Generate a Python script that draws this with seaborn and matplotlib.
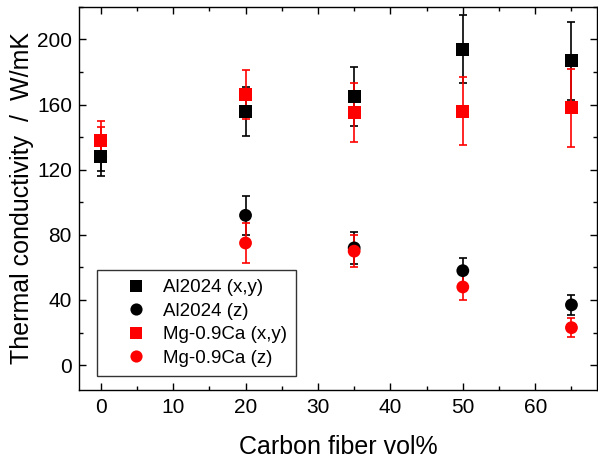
import numpy as np
import pandas as pd
import seaborn as sns
import matplotlib.pyplot as plt
from matplotlib.ticker import MultipleLocator
from matplotlib.lines import Line2D
from matplotlib.collections import PathCollection
from matplotlib.legend_handler import HandlerLine2D, HandlerPathCollection

fiber = [0, 20, 35, 50, 65]

al_xy = [128, 156, 165, 194, 187]
al_xy_err = [12, 15, 18, 21, 24]
al_z = [128, 92, 72, 58, 37]
al_z_err = [9, 12, 10, 8, 6]
mg_xy = [138, 166, 155, 156, 158]
mg_xy_err = [12, 15, 18, 21, 24]
mg_z = [138, 75, 70, 48, 23]
mg_z_err = [8, 12, 10, 8, 6]

names = ["Al2024 (x,y)", "Al2024 (z)", "Mg-0.9Ca (x,y)", "Mg-0.9Ca (z)"]
vals = [al_xy, al_z, mg_xy, mg_z]
errs = [al_xy_err, al_z_err, mg_xy_err, mg_z_err]
colors = ["black", "black", "red", "red"]
markers = ["s", "o", "s", "o"]

df = pd.DataFrame({
    "vol": fiber * 4,
    "k": sum(vals, []),
    "err": sum(errs, []),
    "series": [n for n in names for _ in fiber],
})

sns.set_style("ticks")
plt.rcParams['font.family'] = ['Liberation Sans', 'DejaVu Sans']
plt.rcParams.update({'text.color': 'black', 'axes.labelcolor': 'black',
                     'xtick.color': 'black', 'ytick.color': 'black'})

fig, ax = plt.subplots(figsize=(5.98, 4.61), dpi=100)

for name, c in zip(names, colors):
    d = df[df.series == name]
    ax.errorbar(d.vol, d.k, yerr=d.err, fmt='none', ecolor=c,
                elinewidth=1.2, capsize=3.2, capthick=1.2, zorder=2)

sns.scatterplot(data=df, x="vol", y="k", hue="series", style="series",
                palette=dict(zip(names, colors)),
                markers=dict(zip(names, markers)),
                s=85, linewidth=0, ax=ax, zorder=3)

ax.set_xlim(-3, 68.5)
ax.set_ylim(-15, 220)
ax.xaxis.set_major_locator(MultipleLocator(10))
ax.xaxis.set_minor_locator(MultipleLocator(5))
ax.yaxis.set_major_locator(MultipleLocator(40))
ax.yaxis.set_minor_locator(MultipleLocator(20))
ax.tick_params(which='both', direction='in', top=True, right=True,
               labelsize=15, width=1, color='black')
ax.tick_params(axis='x', which='major', pad=6)
ax.tick_params(axis='y', which='major', pad=5)
ax.tick_params(which='major', length=5)
ax.tick_params(which='minor', length=3)
for sp in ax.spines.values():
    sp.set_linewidth(1)
    sp.set_color('black')

ax.set_xlabel("Carbon fiber vol%", fontsize=18, labelpad=13)
ax.set_ylabel("Thermal conductivity  /  W/mK", fontsize=18, labelpad=2)

# push the legend markers right, away from the frame edge
handles, labels = ax.get_legend_handles_labels()
hmap = {Line2D: HandlerLine2D(xpad=0.54),
        PathCollection: HandlerPathCollection(xpad=0.54)}
leg = ax.legend(handles, labels, handler_map=hmap,
                loc='lower left', bbox_to_anchor=(0.034, 0.035), fontsize=13.5,
                frameon=True, fancybox=False, edgecolor='black',
                borderpad=0.5, handletextpad=0.3, labelspacing=0.34,
                handlelength=2.72, markerscale=0.95, borderaxespad=0)
leg.get_frame().set_linewidth(1)

fig.subplots_adjust(left=0.132, right=0.998, top=0.985, bottom=0.155)
fig.savefig("out.png", dpi=100)
